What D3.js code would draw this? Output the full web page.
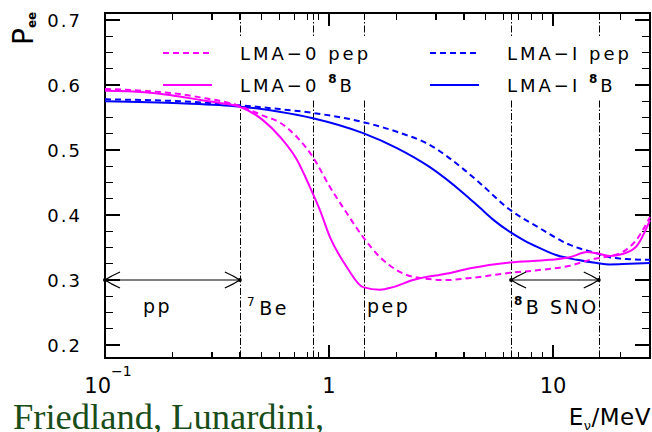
<!DOCTYPE html>
<html>
<head>
<meta charset="utf-8">
<script src="https://cdn.jsdelivr.net/npm/d3@7"></script>
<style>
  body { margin: 0; background: #fff; }
  svg { display: block; }
  .lab { font-family: "DejaVu Sans", sans-serif; fill: #000; }
</style>
</head>
<body>
<svg id="chart" width="652" height="432"></svg>
<script>
// Survival probability P_ee versus neutrino energy (MeV)
const lma0B8E = [0.1, 0.15, 0.2, 0.266, 0.33, 0.396, 0.507, 0.605, 0.719, 0.822, 0.91, 1.01, 1.2, 1.42, 1.69, 1.93, 2.37, 3.37, 4.27, 6.42, 9.7, 11.9, 14.2, 15.7, 17.9, 20.4, 23.6, 27.1];
const lma0B8P = [0.591, 0.589, 0.584, 0.577, 0.572, 0.567, 0.546, 0.52, 0.485, 0.443, 0.408, 0.366, 0.32, 0.289, 0.285, 0.289, 0.300, 0.310, 0.318, 0.327, 0.331, 0.335, 0.343, 0.341, 0.337, 0.340, 0.352, 0.392];

const lma0PepE = [0.1, 0.15, 0.216, 0.266, 0.396, 0.507, 0.605, 0.719, 0.848, 1.01, 1.2, 1.42, 1.69, 2.01, 2.37, 3.37, 4.27, 6.42, 8.5, 11.9, 14.6, 17.9, 20.4, 23.6, 27.1];
const lma0PepP = [0.594, 0.591, 0.586, 0.581, 0.568, 0.553, 0.542, 0.52, 0.489, 0.443, 0.403, 0.366, 0.335, 0.315, 0.305, 0.300, 0.303, 0.311, 0.315, 0.322, 0.331, 0.337, 0.343, 0.362, 0.397];

const lma1B8E = [0.1, 0.216, 0.396, 0.6, 0.848, 1.42, 2.01, 2.81, 3.97, 4.72, 5.49, 6.42, 7.52, 8.5, 10.4, 12.8, 15.7, 17.9, 22, 27.1];
const lma1B8P = [0.575, 0.572, 0.567, 0.559, 0.549, 0.526, 0.503, 0.474, 0.434, 0.411, 0.391, 0.374, 0.360, 0.351, 0.338, 0.331, 0.326, 0.324, 0.325, 0.326];

const lma1PepE = [0.1, 0.216, 0.396, 0.6, 0.848, 1.42, 2.01, 2.81, 3.97, 4.72, 6.42, 8.5, 11.9, 15.7, 17.9, 22, 27.1];
const lma1PepP = [0.578, 0.575, 0.569, 0.563, 0.557, 0.543, 0.528, 0.508, 0.471, 0.449, 0.408, 0.382, 0.354, 0.341, 0.335, 0.332, 0.331];

// Axis ticks
const yMajorTicks = [0.2, 0.3, 0.4, 0.5, 0.6, 0.7];
const yTickLabels = ["0.2", "0.3", "0.4", "0.5", "0.6", "0.7"];
const xMajorTicks = [0.1, 1, 10];
const xMinorTicks = [0.2, 0.3, 0.4, 0.5, 0.6, 0.7, 0.8, 0.9, 2, 3, 4, 5, 6, 7, 8, 9, 20];

// Energy thresholds / window edges of the solar neutrino sources
const sourceEdges = [0.4, 0.85, 1.44, 6.5, 16];
const ppRange = [0.1, 0.4];
const snoRange = [6.5, 16];
const arrowLevel = 0.3;

const svg = d3.select("#chart");
const plotL = 105, plotR = 650, plotT = 13, plotB = 358;

const x = d3.scaleLog().domain([0.1, 27.1]).range([plotL, plotR]);
const y = d3.scaleLinear().domain([0.18, 0.7108]).range([plotB, plotT]);

// Vertical dash-dot lines
svg.append("g").selectAll("line").data(sourceEdges).join("line")
  .attr("x1", d => Math.round(x(d)) + 0.5).attr("x2", d => Math.round(x(d)) + 0.5)
  .attr("y1", plotT).attr("y2", plotB)
  .attr("stroke", "#000").attr("stroke-width", 1)
  .attr("stroke-dasharray", "7,2,1.5,2");

// Legend background hides the lines behind the entries
svg.append("rect").attr("x", 150).attr("y", 38).attr("width", 492).attr("height", 61).attr("fill", "#fff");

// Frame
svg.append("rect").attr("x", plotL).attr("y", plotT).attr("width", plotR - plotL).attr("height", plotB - plotT)
  .attr("fill", "none").attr("stroke", "#000").attr("stroke-width", 2).attr("shape-rendering", "crispEdges");

// Ticks, pointing inwards on all four sides
const tg = svg.append("g").attr("stroke", "#000").attr("stroke-width", 1.3).attr("shape-rendering", "crispEdges");
const yMinor = d3.range(0.2, 0.7001, 0.025).filter(v => !yMajorTicks.some(m => Math.abs(m - v) < 1e-6));
yMajorTicks.forEach(v => {
  tg.append("line").attr("x1", plotL).attr("x2", plotL + 15).attr("y1", y(v)).attr("y2", y(v));
  tg.append("line").attr("x1", plotR).attr("x2", plotR - 15).attr("y1", y(v)).attr("y2", y(v));
});
yMinor.forEach(v => {
  tg.append("line").attr("x1", plotL).attr("x2", plotL + 8).attr("y1", y(v)).attr("y2", y(v));
  tg.append("line").attr("x1", plotR).attr("x2", plotR - 8).attr("y1", y(v)).attr("y2", y(v));
});
xMajorTicks.forEach(v => {
  tg.append("line").attr("x1", x(v)).attr("x2", x(v)).attr("y1", plotB).attr("y2", plotB - 13);
  tg.append("line").attr("x1", x(v)).attr("x2", x(v)).attr("y1", plotT).attr("y2", plotT + 13);
});
xMinorTicks.forEach(v => {
  tg.append("line").attr("x1", x(v)).attr("x2", x(v)).attr("y1", plotB).attr("y2", plotB - 6.5);
  tg.append("line").attr("x1", x(v)).attr("x2", x(v)).attr("y1", plotT).attr("y2", plotT + 6.5);
});

// Y tick labels
svg.append("g").selectAll("text").data(yMajorTicks).join("text")
  .attr("class", "lab").attr("x", 82).attr("y", d => y(d) + 6.5)
  .attr("text-anchor", "end").style("font-size", "18px").style("letter-spacing", "2px")
  .text((d, i) => yTickLabels[i]);

// X tick labels
const xl = svg.append("g").attr("class", "lab").style("font-size", "21px");
const t01 = xl.append("text").attr("x", x(0.1) + 3).attr("y", 393).attr("text-anchor", "middle");
t01.append("tspan").text("10");
t01.append("tspan").attr("dy", -17).style("font-size", "14px").text("\u22121");
xl.append("text").attr("x", x(1)).attr("y", 393).attr("text-anchor", "middle").text("1");
xl.append("text").attr("x", x(10)).attr("y", 393).attr("text-anchor", "middle").text("10");

// Axis titles
const xt = svg.append("text").attr("class", "lab").attr("x", 651).attr("y", 425)
  .attr("text-anchor", "end").style("font-size", "23px").style("letter-spacing", "0.5px");
xt.append("tspan").text("E");
xt.append("tspan").attr("dy", 5).style("font-size", "13px").text("\u03bd");
xt.append("tspan").attr("dy", -5).text("/MeV");

const yt = svg.append("text").attr("class", "lab").attr("transform", "translate(33,45) rotate(-90)")
  .style("font-size", "28px");
yt.append("tspan").text("P");
yt.append("tspan").attr("dy", 3).style("font-size", "12px").style("font-weight", "bold").text("ee");

// Curves
const line = d3.line().x(d => x(d[0])).y(d => y(d[1])).curve(d3.curveMonotoneX);
const series = [
  { e: lma1PepE, p: lma1PepP, color: "#0000ff", dash: "6,4" },
  { e: lma1B8E, p: lma1B8P, color: "#0000ff", dash: null },
  { e: lma0PepE, p: lma0PepP, color: "#ff00ff", dash: "6,4" },
  { e: lma0B8E, p: lma0B8P, color: "#ff00ff", dash: null }
];
series.forEach(s => {
  svg.append("path").datum(d3.zip(s.e, s.p)).attr("d", line)
    .attr("fill", "none").attr("stroke", s.color).attr("stroke-width", 2)
    .attr("stroke-dasharray", s.dash);
});

// Energy-range arrows
function rangeArrow(range) {
  const x0 = x(range[0]), x1 = x(range[1]), yy = y(arrowLevel);
  const g = svg.append("g").attr("stroke", "#000").attr("fill", "none").attr("stroke-width", 1.2);
  g.append("line").attr("x1", x0).attr("x2", x1).attr("y1", yy).attr("y2", yy);
  g.append("path").attr("d", `M${x0 + 15},${yy - 8} Q${x0 + 6},${yy - 4} ${x0},${yy} Q${x0 + 6},${yy + 4} ${x0 + 15},${yy + 8}`);
  g.append("path").attr("d", `M${x1 - 15},${yy - 8} Q${x1 - 6},${yy - 4} ${x1},${yy} Q${x1 - 6},${yy + 4} ${x1 - 15},${yy + 8}`);
  svg.append("circle").attr("cx", x0).attr("cy", yy).attr("r", 2).attr("fill", "#000");
  svg.append("circle").attr("cx", x1).attr("cy", yy).attr("r", 2).attr("fill", "#000");
}
rangeArrow(ppRange);
rangeArrow(snoRange);

// Source labels
const sl = svg.append("g").attr("class", "lab").style("font-size", "19px").style("letter-spacing", "2.5px");
sl.append("text").attr("x", 143).attr("y", 313).text("pp");
const be = sl.append("text").attr("x", 247).attr("y", 315);
be.append("tspan").style("font-size", "12px").attr("dy", -9).text("7");
be.append("tspan").attr("dy", 9).attr("dx", 2).text("Be");
sl.append("text").attr("x", 367).attr("y", 313).text("pep");
const sno = sl.append("text").attr("x", 514).attr("y", 314);
sno.append("tspan").style("font-size", "12px").style("font-weight", "bold").attr("dy", -9).text("8");
sno.append("tspan").attr("dy", 9).attr("dx", 1).text("B SNO");

// Legend
const legendRows = [
  { x: 163, y: 53, color: "#ff00ff", dash: "6,4", name: "LMA\u22120 pep", iso: null },
  { x: 163, y: 85, color: "#ff00ff", dash: null, name: "LMA\u22120 ", iso: "B" },
  { x: 430, y: 53, color: "#0000ff", dash: "6,4", name: "LMA\u2212I pep", iso: null },
  { x: 430, y: 85, color: "#0000ff", dash: null, name: "LMA\u2212I ", iso: "B" }
];
legendRows.forEach(r => {
  svg.append("line").attr("x1", r.x).attr("x2", r.x + 49).attr("y1", r.y).attr("y2", r.y)
    .attr("stroke", r.color).attr("stroke-width", 2).attr("stroke-dasharray", r.dash);
  const t = svg.append("text").attr("class", "lab").attr("x", r.x + 77).attr("y", r.y + 7)
    .style("font-size", "18px").style("letter-spacing", "3px");
  t.append("tspan").text(r.name);
  if (r.iso) {
    t.append("tspan").style("font-size", "12px").style("font-weight", "bold").attr("dy", -9).text("8");
    t.append("tspan").attr("dy", 9).text(r.iso);
  }
});

// Author credit
svg.append("text").attr("x", 13).attr("y", 429)
  .style("font-family", "'Liberation Serif', 'Times New Roman', serif")
  .style("font-size", "36.5px").attr("fill", "#194d19")
  .text("Friedland, Lunardini,");
</script>
</body>
</html>
